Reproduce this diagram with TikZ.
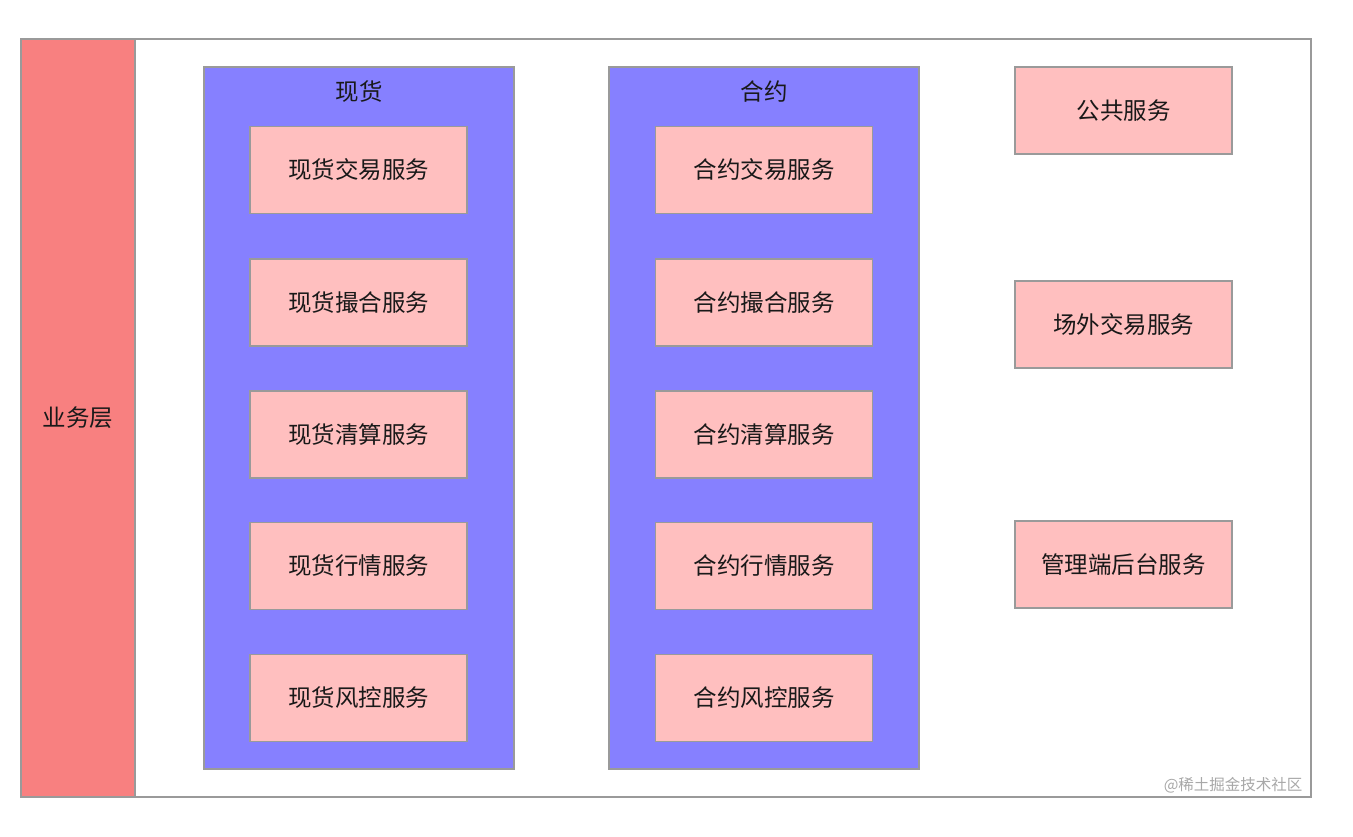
\documentclass[tikz,border=0pt]{standalone}
\usepackage{fontspec}
\setmainfont{Noto Sans CJK SC}
\definecolor{redbar}{HTML}{F88080}
\definecolor{bluepanel}{HTML}{8680FF}
\definecolor{pinkbox}{HTML}{FFBFBF}
\definecolor{edgegray}{HTML}{9A9A9A}
\definecolor{wmgray}{HTML}{A8A8A8}
\tikzset{
  frame/.style={draw=edgegray, line width=1.5pt, fill=white},
  redcol/.style={draw=edgegray, line width=1.2pt, fill=redbar},
  panel/.style={draw=edgegray, line width=1.2pt, fill=bluepanel},
  svc/.style={draw=edgegray, line width=1.2pt, fill=pinkbox, minimum width=217pt, minimum height=87pt, inner sep=0pt, font=\fontsize{23.5}{27}\selectfont, text=black!90},
  ttl/.style={font=\fontsize{23.5}{27}\selectfont, text=black!90},
}
\begin{document}
\begin{tikzpicture}[x=1pt,y=-1pt]
\useasboundingbox (0,0) rectangle (1353,836);
\fill[white] (0,0) rectangle (1353,836);
\draw[frame] (21,39) rectangle (1311,797);
\draw[redcol] (21,39) rectangle (135,797);
\node[ttl] (layer) at (78,418) {业务层};
% panels
\draw[panel] (204,67) rectangle (514,769);
\draw[panel] (609,67) rectangle (919,769);
\node[ttl] (spot) at (359,92) {现货};
\node[ttl] (fut) at (764,92) {合约};
% spot services
\node[svc] (s1) at (358.5,170) {现货交易服务};
\node[svc] (s2) at (358.5,302.5) {现货撮合服务};
\node[svc] (s3) at (358.5,434.5) {现货清算服务};
\node[svc] (s4) at (358.5,566) {现货行情服务};
\node[svc] (s5) at (358.5,698) {现货风控服务};
% contract services
\node[svc] (c1) at (764,170) {合约交易服务};
\node[svc] (c2) at (764,302.5) {合约撮合服务};
\node[svc] (c3) at (764,434.5) {合约清算服务};
\node[svc] (c4) at (764,566) {合约行情服务};
\node[svc] (c5) at (764,698) {合约风控服务};
% right column
\node[svc] (p1) at (1123.5,110.5) {公共服务};
\node[svc] (p2) at (1123.5,324.5) {场外交易服务};
\node[svc] (p3) at (1123.5,564.5) {管理端后台服务};
% watermark
\node[font=\fontsize{15.5}{18}\selectfont, text=wmgray, anchor=east] (wm) at (1306,785) {@稀土掘金技术社区};
\end{tikzpicture}
\end{document}
